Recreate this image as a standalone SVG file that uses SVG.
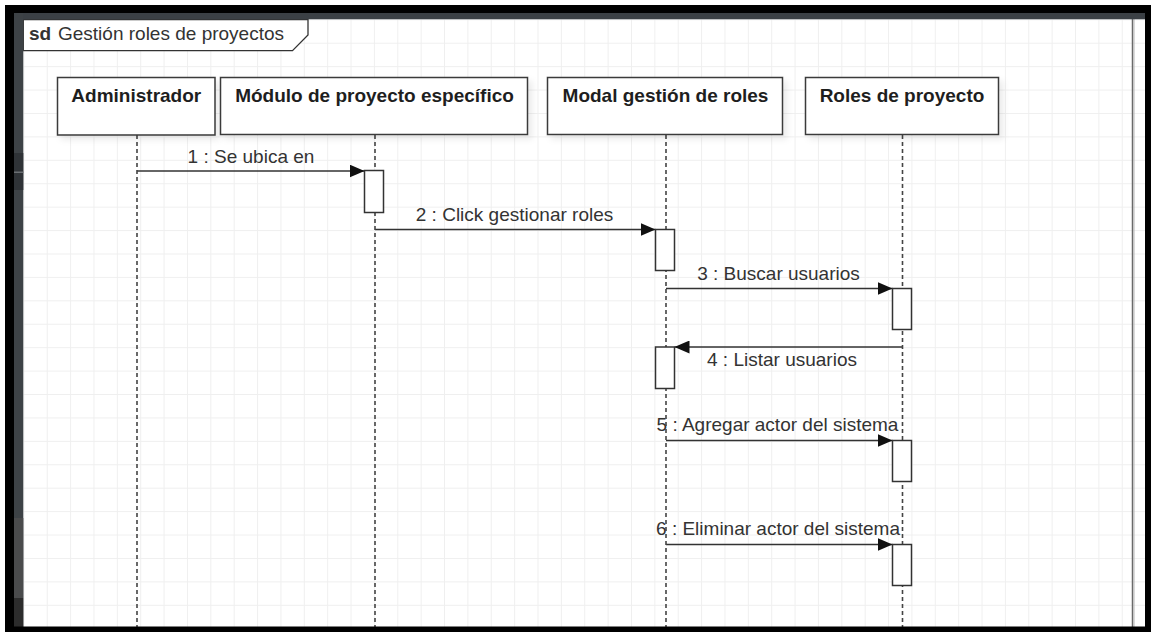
<svg xmlns="http://www.w3.org/2000/svg" width="1151" height="632" viewBox="0 0 1151 632">
  <style>
    .hdr { fill: #ffffff; stroke: #3a3a3a; stroke-width: 1.5; }
    .hdrtxt { font-family: "Liberation Sans", Arial, sans-serif; font-size: 19px; font-weight: bold; fill: #1e1e1e; text-anchor: middle; }
    .life { stroke: #444444; stroke-width: 1.6; stroke-dasharray: 4 3; fill: none; }
    .act { fill: #ffffff; stroke: #333333; stroke-width: 1.5; }
    .msg { stroke: #333333; stroke-width: 1.5; fill: none; marker-end: url(#arrow); }
    .lbl { font-family: "Liberation Sans", Arial, sans-serif; font-size: 19px; fill: #333333; text-anchor: middle; }
    .frametxt { font-family: "Liberation Sans", Arial, sans-serif; font-size: 19px; fill: #333333; }
  </style>
  <defs>
    <pattern id="grid" patternUnits="userSpaceOnUse" x="0" y="19.3" width="23.37" height="23.42">
      <path d="M0.5 0 V23.42 M0 0.5 H23.37" stroke="#efefef" stroke-width="1" fill="none"/>
    </pattern>
    <marker id="arrow" markerUnits="userSpaceOnUse" viewBox="0 0 15 13" refX="15" refY="6.5" markerWidth="15" markerHeight="13" orient="auto">
      <path d="M0 0 L15 6.5 L0 13 Z" fill="#111111"/>
    </marker>
    <filter id="shadow" x="-10%" y="-20%" width="130%" height="160%">
      <feDropShadow dx="4" dy="4" stdDeviation="3" flood-color="#000000" flood-opacity="0.08"/>
    </filter>
  </defs>

  <!-- canvas -->
  <rect x="0" y="0" width="1151" height="632" fill="#ffffff"/>
  <rect x="23.3" y="19.3" width="1122" height="608" fill="url(#grid)"/>

  <!-- sd frame -->
  <g id="frame">
    <line x1="1132.5" y1="19" x2="1132.5" y2="627" stroke="#6a6a6a" stroke-width="1.5"/>
    <line x1="1134" y1="19" x2="1134" y2="627" stroke="#b5b5b5" stroke-width="1"/>
    <path d="M23.3 19.5 H308 V35 L292.5 50.7 H23.3 Z" fill="#ffffff" stroke="#333333" stroke-width="1.3"/>
    <text x="29" y="39.5" class="frametxt" font-weight="bold" fill="#1e1e1e">sd</text>
    <text x="58" y="39.5" class="frametxt">Gestión roles de proyectos</text>
  </g>

  <!-- messages -->
  <g id="connectors">
    <line class="msg" x1="137" y1="171" x2="364.5" y2="171"/>
    <text class="lbl" x="251" y="162.5">1 : Se ubica en</text>

    <line class="msg" x1="375" y1="229.5" x2="655.5" y2="229.5"/>
    <text class="lbl" x="514.5" y="221">2 : Click gestionar roles</text>

    <line class="msg" x1="666" y1="288.5" x2="892.5" y2="288.5"/>
    <text class="lbl" x="778.5" y="279.5">3 : Buscar usuarios</text>

    <line class="msg" x1="902.5" y1="347" x2="674.5" y2="347"/>
    <text class="lbl" x="782" y="366">4 : Listar usuarios</text>

    <line class="msg" x1="666" y1="440.5" x2="892.5" y2="440.5"/>
    <text class="lbl" x="777.5" y="431">5 : Agregar actor del sistema</text>

    <line class="msg" x1="666" y1="544.5" x2="892.5" y2="544.5"/>
    <text class="lbl" x="778" y="535">6 : Eliminar actor del sistema</text>
  </g>

  <!-- lifelines -->
  <g id="administrador">
    <line class="life" x1="137" y1="135" x2="137" y2="627"/>
    <rect class="hdr" x="57.5" y="77.5" width="157.5" height="57.5" filter="url(#shadow)"/>
    <text class="hdrtxt" x="136.3" y="102">Administrador</text>
  </g>

  <g id="modulo-proyecto">
    <line class="life" x1="375" y1="135" x2="375" y2="627"/>
    <rect class="hdr" x="220.5" y="77.5" width="307" height="57" filter="url(#shadow)"/>
    <text class="hdrtxt" x="374.5" y="102">Módulo de proyecto específico</text>
    <rect class="act" x="364.5" y="170.5" width="19" height="42"/>
  </g>

  <g id="modal-roles">
    <line class="life" x1="666" y1="135" x2="666" y2="627"/>
    <rect class="hdr" x="547.5" y="77.5" width="235" height="57" filter="url(#shadow)"/>
    <text class="hdrtxt" x="665.5" y="102">Modal gestión de roles</text>
    <rect class="act" x="655.5" y="229.5" width="19" height="41"/>
    <rect class="act" x="655.5" y="347" width="19" height="41.5"/>
  </g>

  <g id="roles-proyecto">
    <line class="life" x1="902.5" y1="135" x2="902.5" y2="627"/>
    <rect class="hdr" x="805.5" y="77.5" width="193" height="57" filter="url(#shadow)"/>
    <text class="hdrtxt" x="902" y="102">Roles de proyecto</text>
    <rect class="act" x="892.5" y="288.5" width="19" height="41"/>
    <rect class="act" x="892.5" y="440.5" width="19" height="41"/>
    <rect class="act" x="892.5" y="544.5" width="19" height="41"/>
  </g>

  <!-- window chrome around the canvas -->
  <g id="chrome">
    <rect x="14" y="13" width="1131" height="6.3" fill="#3b4045"/>
    <rect x="14" y="13" width="9.3" height="614" fill="#3d4246"/>
    <rect x="14" y="153" width="9.3" height="37" fill="#2f3337"/>
    <rect x="14" y="171.5" width="9.3" height="1.5" fill="#6b6f73"/>
    <rect x="14" y="518" width="9.3" height="80" fill="#4a4b4c"/>
    <rect x="14" y="598" width="9.3" height="29" fill="#2c2c2c"/>
    <rect x="5" y="5" width="1146" height="8" fill="#000000"/>
    <rect x="5" y="5" width="9" height="627" fill="#000000"/>
    <rect x="1145" y="5" width="6" height="627" fill="#000000"/>
    <rect x="5" y="626.5" width="1146" height="5.5" fill="#000000"/>
  </g>
</svg>
